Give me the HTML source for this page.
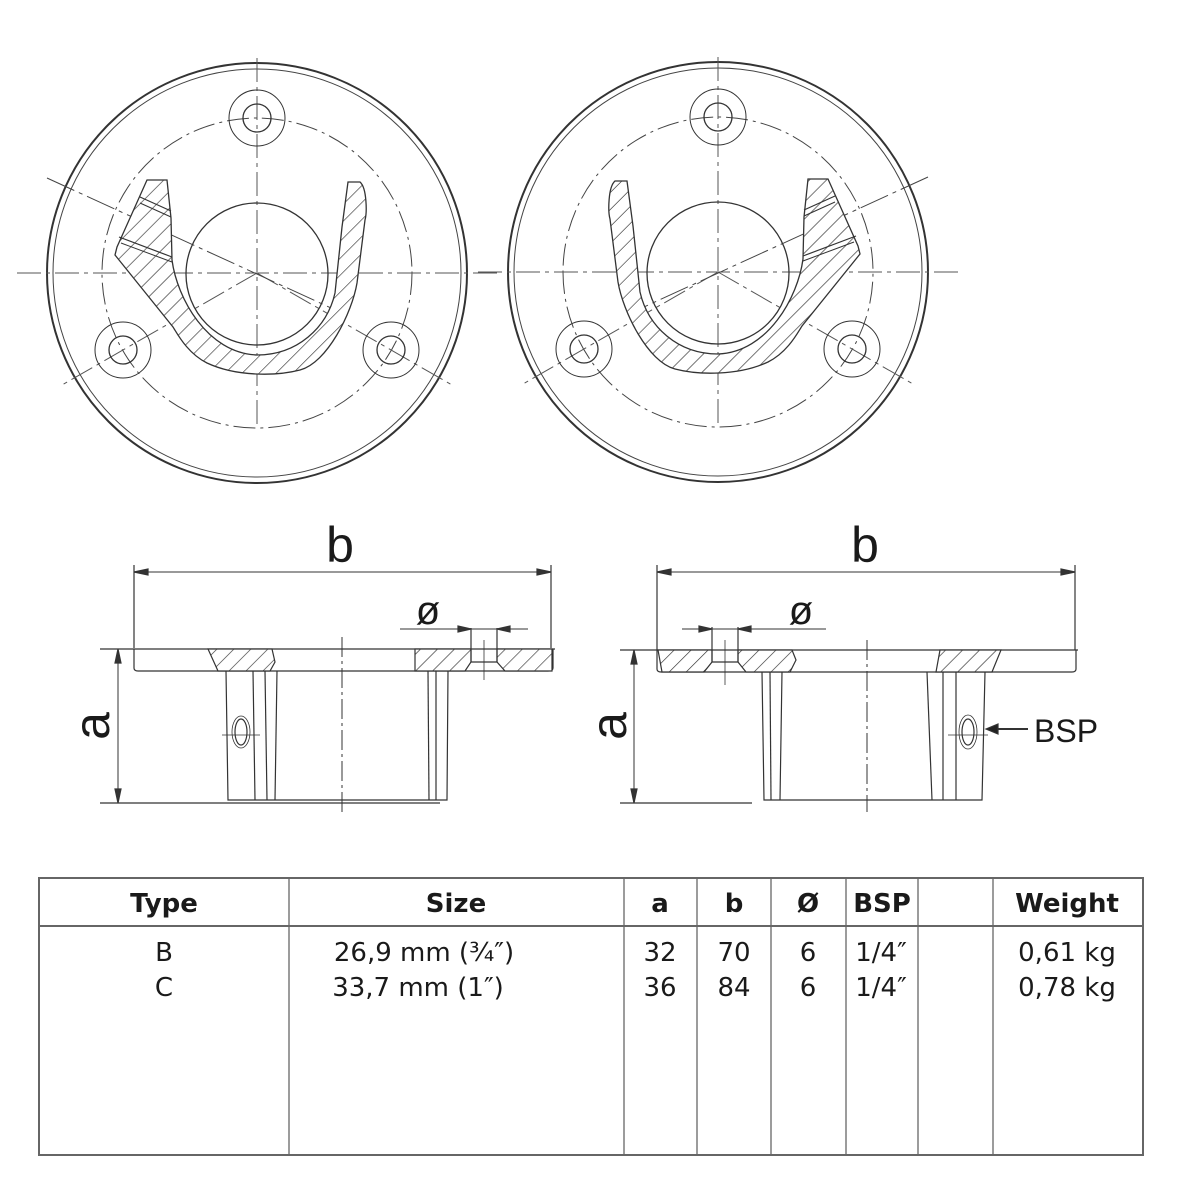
<!DOCTYPE html>
<html><head><meta charset="utf-8"><style>
html,body{margin:0;padding:0;background:#fff;}
svg{display:block;}
text{font-family:"Liberation Sans",sans-serif;fill:#1a1a1a;}
.t{font-family:"DejaVu Sans","Liberation Sans",sans-serif;}
</style></head><body>
<svg width="1182" height="1188" viewBox="0 0 1182 1188" xmlns="http://www.w3.org/2000/svg">
<defs>
<pattern id="h" patternUnits="userSpaceOnUse" width="12" height="12" patternTransform="rotate(45)">
<rect width="12" height="12" fill="#fff"/><line x1="0" y1="0" x2="0" y2="12" stroke="#333" stroke-width="1.3"/>
</pattern>
<pattern id="h2" patternUnits="userSpaceOnUse" width="12" height="12" patternTransform="rotate(-45)">
<rect width="12" height="12" fill="#fff"/><line x1="0" y1="0" x2="0" y2="12" stroke="#333" stroke-width="1.3"/>
</pattern>
<g id="base">
<circle r="210" fill="none" stroke="#333" stroke-width="2"/>
<circle r="204" fill="none" stroke="#444" stroke-width="1"/>
<circle r="155" fill="none" stroke="#444" stroke-width="1" stroke-dasharray="22 5 3 5"/>
<line x1="-240" y1="0" x2="240" y2="0" stroke="#555" stroke-width="1" stroke-dasharray="24 5 4 5"/>
<line x1="0" y1="-215" x2="0" y2="152" stroke="#555" stroke-width="1" stroke-dasharray="24 5 4 5"/>
<line x1="0" y1="0" x2="-195" y2="112" stroke="#555" stroke-width="1" stroke-dasharray="24 5 4 5"/>
<line x1="0" y1="0" x2="195" y2="112" stroke="#555" stroke-width="1" stroke-dasharray="24 5 4 5"/>
<line x1="-210" y1="-95" x2="85" y2="40" stroke="#444" stroke-width="1" stroke-dasharray="30 5 4 5"/>
<g fill="none" stroke="#333" stroke-width="1.3">
<circle cx="0" cy="-155" r="14"/><circle cx="0" cy="-155" r="28" stroke-width="1"/>
<circle cx="-134" cy="77" r="14"/><circle cx="-134" cy="77" r="28" stroke-width="1"/>
<circle cx="134" cy="77" r="14"/><circle cx="134" cy="77" r="28" stroke-width="1"/>
</g>
</g>
<path id="u" d="M-110,-93 L-90,-93 L-86,-55 L-85,-13 C-80,25 -50,80 0,82 C40,82 70,55 78,20 L85,-46 L91,-91 L103,-91 C110,-85 110,-60 108,-53 L100,10 C95,40 70,90 43,97 C20,103 -20,104 -50,90 C-70,80 -80,60 -84,54 L-142,-18 L-140,-26 Z" stroke="#333" stroke-width="1.3"/>
<g id="extra">
<line x1="-117" y1="-76" x2="-86" y2="-62" stroke="#333" stroke-width="1.2"/>
<line x1="-138" y1="-36" x2="-85" y2="-16" stroke="#333" stroke-width="1.2"/>
<line x1="-117" y1="-70" x2="-86" y2="-56" stroke="#333" stroke-width="1"/>
<line x1="-136" y1="-30" x2="-85" y2="-11" stroke="#333" stroke-width="1"/>
<circle cx="0" cy="1" r="71" fill="none" stroke="#333" stroke-width="1.3"/>
</g>
</defs>
<g transform="translate(257,273)"><use href="#base"/><use href="#u" fill="url(#h)"/><use href="#extra"/></g>
<g transform="translate(718,272) scale(-1,1)"><use href="#base"/><use href="#u" fill="url(#h2)"/><use href="#extra"/></g>

<!-- side view 1 -->
<g stroke="#333" fill="none" stroke-width="1.2">
<line x1="134" y1="565" x2="134" y2="648"/><line x1="551" y1="565" x2="551" y2="648"/>
<line x1="134" y1="572" x2="551" y2="572" stroke-width="1"/>
<path d="M134,572 l14,-3 v6z M551,572 l-14,-3 v6z" fill="#333"/>
<line x1="100" y1="649" x2="555" y2="649"/>
<path d="M134,649 V668 Q134,671 138,671 H548 Q553,671 553,668 V649"/>
<path d="M208,649 L272,649 L275,662 L270,671 L218,671 Z" fill="url(#h)"/>
<path d="M415,649 L471,649 L471,662 L465,671 L415,671 Z" fill="url(#h)"/>
<path d="M497,649 L552,649 L552,671 L505,671 L497,662 Z" fill="url(#h)"/>
<line x1="471" y1="628" x2="471" y2="662"/><line x1="497" y1="628" x2="497" y2="662"/>
<line x1="484" y1="640" x2="484" y2="680" stroke-width="0.8"/>
<line x1="471" y1="662" x2="497" y2="662"/>
<line x1="400" y1="629" x2="528" y2="629" stroke-width="1"/>
<path d="M471,629 l-13,-3 v6z M497,629 l13,-3 v6z" fill="#333"/>
<path d="M226,671 L228,800 L447,800 L448,671"/>
<line x1="253" y1="671" x2="255" y2="800"/><line x1="265" y1="671" x2="267" y2="800"/><line x1="277" y1="671" x2="275" y2="800"/>
<line x1="428" y1="671" x2="429" y2="800"/><line x1="436" y1="671" x2="436" y2="800"/>
<line x1="100" y1="803" x2="440" y2="803"/>
<line x1="342" y1="637" x2="342" y2="812" stroke-dasharray="20 4 3 4" stroke-width="1"/>
<ellipse cx="241" cy="732" rx="6" ry="13"/><ellipse cx="241" cy="732" rx="9" ry="16" stroke-width="0.8"/>
<line x1="222" y1="735" x2="260" y2="735" stroke-width="0.8"/>
<line x1="118" y1="649" x2="118" y2="803" stroke-width="1"/>
<path d="M118,649 l-3,14 h6z M118,803 l-3,-14 h6z" fill="#333"/>
</g>
<text x="340" y="562" font-size="50" text-anchor="middle">b</text>
<text x="428" y="624" font-size="40" text-anchor="middle">ø</text>
<text transform="translate(109,726) rotate(-90)" font-size="50" text-anchor="middle">a</text>

<!-- side view 2 -->
<g stroke="#333" fill="none" stroke-width="1.2">
<line x1="657" y1="565" x2="657" y2="650"/><line x1="1075" y1="565" x2="1075" y2="650"/>
<line x1="657" y1="572" x2="1075" y2="572" stroke-width="1"/>
<path d="M657,572 l14,-3 v6z M1075,572 l-14,-3 v6z" fill="#333"/>
<line x1="620" y1="650" x2="1078" y2="650"/>
<path d="M657,650 V669 Q657,672 661,672 H1072 Q1076,672 1076,669 V650"/>
<path d="M658,650 L712,650 L712,662 L704,672 L662,672 Z" fill="url(#h)"/>
<path d="M738,650 L792,650 L796,660 L790,672 L746,672 L738,662 Z" fill="url(#h)"/>
<path d="M940,650 L1001,650 L992,672 L936,672 Z" fill="url(#h)"/>
<line x1="712" y1="627" x2="712" y2="662"/><line x1="738" y1="627" x2="738" y2="662"/>
<line x1="725" y1="640" x2="725" y2="685" stroke-width="0.8"/>
<line x1="712" y1="662" x2="738" y2="662"/>
<line x1="682" y1="629" x2="826" y2="629" stroke-width="1"/>
<path d="M712,629 l-13,-3 v6z M738,629 l13,-3 v6z" fill="#333"/>
<path d="M762,672 L764,800 L982,800 L985,672"/>
<line x1="770" y1="672" x2="771" y2="800"/><line x1="782" y1="672" x2="780" y2="800"/>
<line x1="927" y1="672" x2="932" y2="800"/><line x1="943" y1="672" x2="943" y2="800"/><line x1="956" y1="672" x2="956" y2="800"/>
<line x1="620" y1="803" x2="752" y2="803"/>
<line x1="867" y1="640" x2="867" y2="812" stroke-dasharray="20 4 3 4" stroke-width="1"/>
<ellipse cx="968" cy="732" rx="6" ry="13"/><ellipse cx="968" cy="732" rx="9" ry="17" stroke-width="0.8"/>
<line x1="948" y1="735" x2="988" y2="735" stroke-width="0.8"/>
<line x1="634" y1="650" x2="634" y2="803" stroke-width="1"/>
<path d="M634,650 l-3,14 h6z M634,803 l-3,-14 h6z" fill="#333"/>
<line x1="990" y1="729" x2="1028" y2="729" stroke-width="2"/>
<path d="M986,729 l12,-5 v10z" fill="#222"/>
</g>
<text x="865" y="562" font-size="50" text-anchor="middle">b</text>
<text x="801" y="624" font-size="40" text-anchor="middle">ø</text>
<text transform="translate(626,726) rotate(-90)" font-size="50" text-anchor="middle">a</text>
<text x="1034" y="742" font-size="32">BSP</text>

<!-- table -->
<g stroke="#666" fill="none">
<rect x="39" y="878" width="1104" height="277" stroke-width="2"/>
<line x1="39" y1="926" x2="1143" y2="926" stroke-width="2"/>
<line x1="289" y1="878" x2="289" y2="1155" stroke-width="1.3"/>
<line x1="624" y1="878" x2="624" y2="1155" stroke-width="1.3"/>
<line x1="697" y1="878" x2="697" y2="1155" stroke-width="1.3"/>
<line x1="771" y1="878" x2="771" y2="1155" stroke-width="1.3"/>
<line x1="846" y1="878" x2="846" y2="1155" stroke-width="1.3"/>
<line x1="918" y1="878" x2="918" y2="1155" stroke-width="1.3"/>
<line x1="993" y1="878" x2="993" y2="1155" stroke-width="1.3"/>
</g>
<g class="t" font-size="26" font-weight="bold" text-anchor="middle">
<text class="t" x="164" y="912" font-weight="bold">Type</text>
<text class="t" x="456" y="912" font-weight="bold">Size</text>
<text class="t" x="660" y="912" font-weight="bold">a</text>
<text class="t" x="734" y="912" font-weight="bold">b</text>
<text class="t" x="808" y="912" font-weight="bold">Ø</text>
<text class="t" x="882" y="912" font-weight="bold">BSP</text>
<text class="t" x="1067" y="912" font-weight="bold">Weight</text>
</g>
<g font-size="26" text-anchor="middle">
<text class="t" x="164" y="961">B</text><text class="t" x="164" y="996">C</text>
<text class="t" x="424" y="961">26,9 mm (¾″)</text><text class="t" x="418" y="996">33,7 mm (1″)</text>
<text class="t" x="660" y="961">32</text><text class="t" x="660" y="996">36</text>
<text class="t" x="734" y="961">70</text><text class="t" x="734" y="996">84</text>
<text class="t" x="808" y="961">6</text><text class="t" x="808" y="996">6</text>
<text class="t" x="881" y="961">1/4″</text><text class="t" x="881" y="996">1/4″</text>
<text class="t" x="1067" y="961">0,61 kg</text><text class="t" x="1067" y="996">0,78 kg</text>
</g>
</svg>
</body></html>
